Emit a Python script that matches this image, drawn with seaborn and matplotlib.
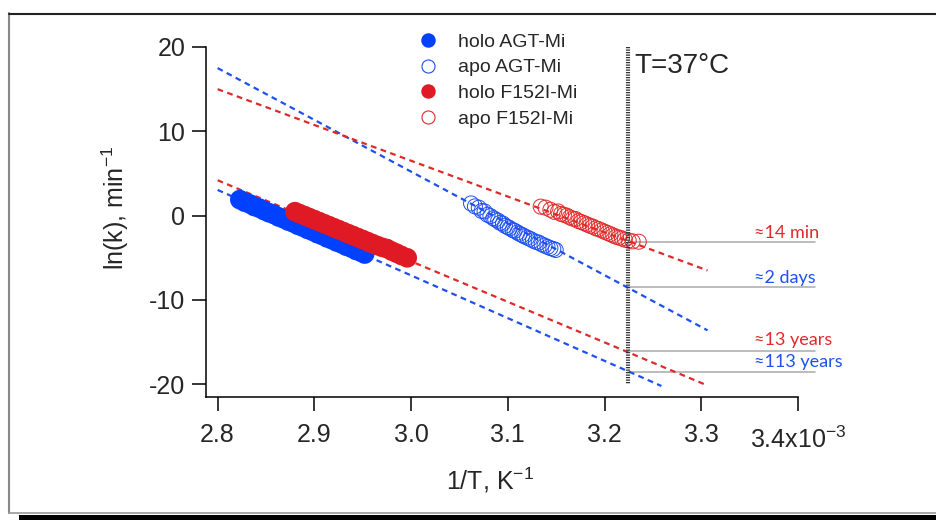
import matplotlib
matplotlib.use("Agg")
import matplotlib.pyplot as plt
import numpy as np
import pandas as pd
import seaborn as sns
from matplotlib.lines import Line2D
from matplotlib.patches import Rectangle

# ---------------- data (x in 1e-3 K^-1, y = ln(k)) ----------------
holo_agt_x = [2.823, 2.828, 2.833, 2.838, 2.843, 2.848, 2.853, 2.858, 2.863, 2.868,
              2.873, 2.878, 2.883, 2.888, 2.893, 2.898, 2.903, 2.908, 2.913, 2.918,
              2.923, 2.928, 2.933, 2.938, 2.943, 2.948, 2.952]
holo_agt_y = [1.90, 1.60, 1.40, 1.08, 0.90, 0.60, 0.35, 0.15, -0.15, -0.36,
              -0.64, -0.85, -1.14, -1.35, -1.63, -1.84, -2.13, -2.34, -2.63, -2.84,
              -3.12, -3.33, -3.62, -3.83, -4.12, -4.32, -4.55]

holo_f152i_x = [2.880, 2.885, 2.890, 2.895, 2.900, 2.905, 2.910, 2.915, 2.920, 2.925,
                2.930, 2.935, 2.940, 2.945, 2.950, 2.955, 2.960, 2.965, 2.970, 2.975,
                2.980, 2.985, 2.990, 2.996]
holo_f152i_y = [0.47, 0.23, 0.00, -0.24, -0.47, -0.71, -0.95, -1.18, -1.42, -1.65,
                -1.89, -2.13, -2.36, -2.60, -2.83, -3.07, -3.31, -3.54, -3.75, -3.90,
                -4.20, -4.45, -4.72, -5.00]

apo_agt_x = [3.062, 3.066, 3.070, 3.073, 3.076, 3.079, 3.082, 3.085, 3.087, 3.090,
             3.092, 3.095, 3.097, 3.100, 3.102, 3.105, 3.107, 3.110, 3.112, 3.115,
             3.117, 3.120, 3.123, 3.126, 3.129, 3.132, 3.135, 3.138, 3.141, 3.144,
             3.147, 3.1495]
apo_agt_y = [1.45, 1.10, 0.95, 0.55, 0.50, 0.10, -0.05, -0.30, -0.45, -0.60,
             -0.85, -0.95, -1.20, -1.35, -1.50, -1.70, -1.80, -2.00, -2.15, -2.30,
             -2.45, -2.60, -2.75, -2.95, -3.10, -3.20, -3.40, -3.55, -3.70, -3.85,
             -3.95, -4.07]

apo_f152i_x = [3.134, 3.139, 3.144, 3.148, 3.152, 3.155, 3.158, 3.161, 3.164, 3.167,
               3.170, 3.173, 3.176, 3.179, 3.182, 3.185, 3.188, 3.191, 3.194, 3.197,
               3.200, 3.203, 3.206, 3.209, 3.212, 3.215, 3.218, 3.221, 3.225, 3.229,
               3.2354]
apo_f152i_y = [1.07, 0.95, 0.70, 0.45, 0.50, 0.20, 0.10, 0.00, -0.20, -0.35,
               -0.40, -0.65, -0.75, -0.90, -1.05, -1.20, -1.30, -1.50, -1.60, -1.75,
               -1.90, -2.05, -2.20, -2.35, -2.50, -2.60, -2.70, -2.85, -2.95, -3.05,
               -3.09]

# Arrhenius fit lines (start/end points)
fit_names = ["apo AGT-Mi", "apo F152I-Mi", "holo AGT-Mi", "holo F152I-Mi"]
fit_x0 = [2.80, 2.80, 2.80, 2.80]
fit_y0 = [17.5, 15.0, 3.05, 4.2]
fit_x1 = [3.3065, 3.3065, 3.2588, 3.3055]
fit_y1 = [-13.6, -6.5, -20.2, -20.1]

# 37 °C marker and extrapolated values
t37_x = 3.2242
t37_ln_k = [-3.16, -8.5, -16.1, -18.5]
t37_labels = ["≈14 min", "≈2 days", "≈13 years", "≈113 years"]
t37_label_y = [-2.65, -8.0, -15.35, -17.9]

x_ticks = [2.8, 2.9, 3.0, 3.1, 3.2, 3.3, 3.4]
x_tick_labels = ["2.8", "2.9", "3.0", "3.1", "3.2", "3.3", ""]
y_ticks = [-20, -10, 0, 10, 20]

BLUE = "#0040FF"
RED = "#E01A24"
BLUE_L = "#1E50F0"
RED_L = "#E02A2A"
fit_colors = [BLUE_L, RED_L, BLUE_L, RED_L]
t37_colors = [RED_L, BLUE_L, RED_L, BLUE_L]

# ---------------- style ----------------
sns.set_style("ticks")
plt.rcParams["font.family"] = ["Liberation Sans", "DejaVu Sans"]
plt.rcParams["mathtext.default"] = "regular"
plt.rcParams["axes.unicode_minus"] = False

W, H = 937, 520
fig = plt.figure(figsize=(W / 100, H / 100), dpi=100)
ax = fig.add_axes([206 / W, 1 - 396.7 / H, (798 - 206) / W, (396.7 - 47) / H])

# fit lines
for i in range(len(fit_names)):
    d = pd.DataFrame({"x": [fit_x0[i], fit_x1[i]], "y": [fit_y0[i], fit_y1[i]]})
    sns.lineplot(data=d, x="x", y="y", ax=ax, color=fit_colors[i], lw=1.6,
                 dashes=False, zorder=1)
for l in ax.get_lines():
    l.set_dashes((2.6, 2.0))

# data
def frame(x, y):
    return pd.DataFrame({"x": x, "y": y})

sns.scatterplot(data=frame(holo_agt_x, holo_agt_y), x="x", y="y", ax=ax,
                color=BLUE, s=200, edgecolor="none", zorder=2)
sns.scatterplot(data=frame(holo_f152i_x, holo_f152i_y), x="x", y="y", ax=ax,
                color=RED, s=200, edgecolor="none", zorder=2)
sns.scatterplot(data=frame(apo_agt_x, apo_agt_y), x="x", y="y", ax=ax,
                facecolors="none", edgecolor=BLUE_L, s=117, linewidth=0.7, zorder=2)
sns.scatterplot(data=frame(apo_f152i_x, apo_f152i_y), x="x", y="y", ax=ax,
                facecolors="none", edgecolor=RED_L, s=117, linewidth=0.7, zorder=2)

# 37 °C vertical line
ax.plot([t37_x, t37_x], [20, -20], color="#333333", lw=3.0, zorder=3,
        dashes=(0.3, 0.3), solid_capstyle="butt", dash_capstyle="butt")
ax.text(3.2312, 17.77, "T=37°C", fontsize=20, va="center", ha="left")

for yv, lab, ly, c in zip(t37_ln_k, t37_labels, t37_label_y, t37_colors):
    ax.plot([t37_x, 3.418], [yv, yv], color="#AAAAAA", lw=1.1, zorder=0.5,
            clip_on=False)
    ax.text(3.355, ly, lab, color=c, fontsize=13, family=["Lato", "DejaVu Sans"],
            va="baseline", ha="left")

# axes
ax.set_xlim(2.788, 3.4)
ax.set_ylim(-21.47, 20)
ax.set_xticks(x_ticks)
ax.set_xticklabels(x_tick_labels)
ax.set_yticks(y_ticks)
ax.tick_params(axis="both", labelsize=18, length=10, width=1.1, color="black")
ax.tick_params(axis="x", pad=9)
ax.tick_params(axis="y", pad=5)
for s in ["top", "right"]:
    ax.spines[s].set_visible(False)
for s in ["left", "bottom"]:
    ax.spines[s].set_linewidth(1.1)
    ax.spines[s].set_color("black")

ax.text(3.4, -26.6, r"3.4x10$^{-3}$", fontsize=18, ha="center", va="center",
        clip_on=False)

ax.set_xlabel(r"1/T, K$^{-1}$", fontsize=18)
ax.xaxis.label.set(va="center", ha="center")
ax.xaxis.set_label_coords((490 - 206) / 592, (396.7 - 480) / 349.7)
ax.set_ylabel(r"ln(k), min$^{-1}$", fontsize=18)
ax.yaxis.label.set(va="center", ha="center", rotation_mode="anchor")
ax.yaxis.set_label_coords((115 - 206) / 592, (396.7 - 208) / 349.7)

# legend
handles = [
    Line2D([], [], ls="none", marker="o", markersize=9.4, markerfacecolor=BLUE,
           markeredgecolor=BLUE),
    Line2D([], [], ls="none", marker="o", markersize=9.4, markerfacecolor="none",
           markeredgecolor=BLUE_L, markeredgewidth=0.8),
    Line2D([], [], ls="none", marker="o", markersize=9.4, markerfacecolor=RED,
           markeredgecolor=RED),
    Line2D([], [], ls="none", marker="o", markersize=9.4, markerfacecolor="none",
           markeredgecolor=RED_L, markeredgewidth=0.8),
]
labels = ["holo AGT-Mi", "apo AGT-Mi", "holo F152I-Mi", "apo F152I-Mi"]
if ax.get_legend() is not None:
    ax.get_legend().remove()
fig.legend(handles, labels, loc="upper left",
           bbox_to_anchor=(408.6 / W, 1 - 33 / H), frameon=False, fontsize=14,
           handlelength=2.0, handletextpad=0.55, borderpad=0, borderaxespad=0,
           labelspacing=0.42)

# outer frame of the figure
fig.add_artist(Line2D([9.5 / W, 9.5 / W], [1 - 13 / H, 1 - 513 / H],
                      transform=fig.transFigure, color="#888888", lw=1.5))
fig.add_artist(Line2D([9.5 / W, 1], [1 - 13.5 / H, 1 - 13.5 / H],
                      transform=fig.transFigure, color="#222222", lw=1.5))
fig.add_artist(Line2D([9.5 / W, 1], [1 - 513 / H, 1 - 513 / H],
                      transform=fig.transFigure, color="#999999", lw=1.2))
fig.add_artist(Rectangle((19 / W, 0), 1, 1 - 514.5 / H, transform=fig.transFigure,
                         color="black", lw=0))

fig.savefig("out.png", dpi=100)
